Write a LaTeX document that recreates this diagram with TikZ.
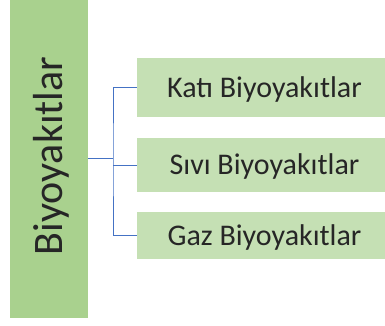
\documentclass[tikz,border=0pt]{standalone}
\usepackage{fontspec}
\setmainfont{Carlito}
\usetikzlibrary{positioning}

\definecolor{barGreen}{HTML}{A9D18E}
\definecolor{boxGreen}{HTML}{C5E0B4}
\definecolor{linkBlue}{HTML}{4472C4}
\definecolor{textGray}{HTML}{262626}

\tikzset{
    mainbar/.style={fill=barGreen, inner sep=0pt, minimum width=78pt, minimum height=318pt},
    kindbox/.style={fill=boxGreen, inner sep=0pt, minimum width=255pt, text=textGray,
        font=\fontsize{30}{36}\selectfont, text height=19.3pt, text depth=0pt},
    link/.style={draw=linkBlue, line width=0.8pt}
}

\begin{document}
\begin{tikzpicture}[x=1pt, y=1pt]

    \useasboundingbox (0,0) rectangle (385,325);

    \def\boxX{264.5}

    % main bar
    \node[mainbar] (bar) at (49,166) {};
    \node[rotate=90, inner sep=0pt, text=textGray, font=\fontsize{42}{50}\selectfont,
        text height=27pt, text depth=0pt] (barlabel) at (48.5,169) {Biyoyakıtlar};

    % kinds
    \node[kindbox, minimum height=59pt] (kati) at (\boxX,237.5) {Katı Biyoyakıtlar};
    \node[kindbox, minimum height=54pt] (sivi) at (\boxX,160) {Sıvı Biyoyakıtlar};
    \node[kindbox, minimum height=47pt] (gaz) at (\boxX,89.5) {Gaz Biyoyakıtlar};

    % connectors
    \coordinate (hub) at (113,167);
    \draw[link] (bar.east |- hub) -- (hub);
    \draw[link] (kati.west) -| (hub) |- (gaz.west);
    \draw[link] (sivi.west) -- (sivi.west -| hub);

\end{tikzpicture}
\end{document}
